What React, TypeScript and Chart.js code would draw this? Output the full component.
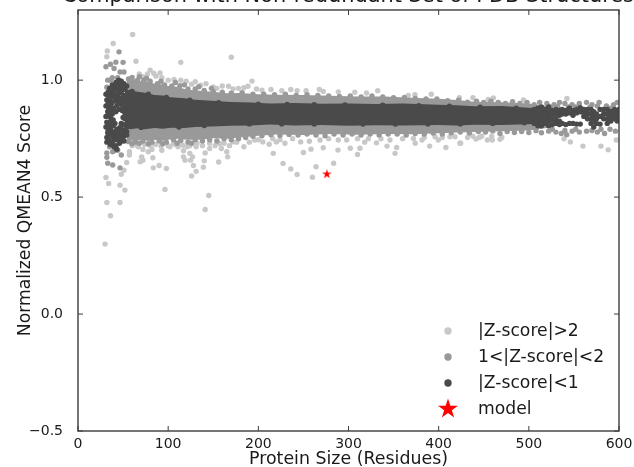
import React, { useEffect, useRef } from "react";
import { Chart, registerables } from "chart.js";

Chart.register(...registerables);

type P = [number, number];

const titleText = "Comparison with Non-redundant Set of PDB Structures";
const xAxisTitle = "Protein Size (Residues)";
const yAxisTitle = "Normalized QMEAN4 Score";
const legendLabels = ["|Z-score|>2", "1<|Z-score|<2", "|Z-score|<1", "model"];

// The saturated core of the cloud cannot be resolved into single points, so it is read as an envelope.
const darkBandX = [52, 58, 66, 74, 85, 94, 103, 118, 130, 148, 170, 192, 213, 240, 270, 300, 330, 360, 400, 420, 440, 470, 508];
const darkBandTop = [0.96, 0.957, 0.95, 0.946, 0.937, 0.934, 0.927, 0.923, 0.916, 0.912, 0.907, 0.904, 0.9, 0.902, 0.899, 0.9, 0.898, 0.9, 0.895, 0.893, 0.888, 0.889, 0.88];
const darkBandBottom = [0.795, 0.79, 0.794, 0.79, 0.795, 0.792, 0.797, 0.795, 0.8, 0.802, 0.805, 0.806, 0.81, 0.806, 0.808, 0.805, 0.807, 0.806, 0.808, 0.806, 0.809, 0.808, 0.813];
const midBandX = [54, 62, 70, 78, 85, 92, 100, 110, 120, 135, 150, 165, 180, 200, 220, 250, 280, 310, 340, 370, 400, 420, 440, 470, 500, 520];
const midBandTop = [1.0, 1.005, 0.995, 0.993, 0.985, 0.982, 0.975, 0.972, 0.96, 0.955, 0.95, 0.944, 0.945, 0.94, 0.938, 0.937, 0.933, 0.93, 0.93, 0.925, 0.92, 0.915, 0.908, 0.905, 0.9, 0.89];
const midBandBottom = [0.745, 0.74, 0.745, 0.74, 0.745, 0.74, 0.745, 0.75, 0.745, 0.745, 0.752, 0.75, 0.755, 0.762, 0.768, 0.766, 0.77, 0.767, 0.77, 0.769, 0.773, 0.776, 0.778, 0.782, 0.785, 0.795];

const modelPoint: P[] = [[276, 0.598]];

const darkLeft: P[] = [
  [31,0.94],[32,0.915],[31,0.89],[33,0.865],[31,0.845],[32,0.82],[31,0.8],[33,0.775],[32,0.755],[32,0.735],
  [35,0.965],[36,0.94],[35,0.915],[36,0.89],[35,0.865],[36,0.84],[35,0.815],[36,0.79],[35,0.77],[34,0.745],[36,0.725],
  [38,0.98],[39,0.955],[39,0.93],[38,0.905],[39,0.88],[38,0.855],[39,0.83],[39,0.805],[38,0.78],[39,0.755],[38,0.735],[40,0.715],
  [42,0.99],[43,0.965],[42,0.94],[41,0.915],[43,0.89],[42,0.865],[41,0.815],[43,0.79],[42,0.77],[42,0.745],[42,0.72],[43,0.705],
  [45,1.0],[46,0.975],[46,0.95],[45,0.925],[46,0.9],[46,0.875],[46,0.795],[45,0.77],[46,0.75],[46,0.73],
  [48,0.995],[49,0.97],[48,0.945],[48,0.92],[49,0.895],[49,0.87],[50,0.84],[48,0.815],[48,0.79],[49,0.765],[48,0.74],
  [51,0.985],[52,0.96],[51,0.935],[52,0.91],[51,0.885],[52,0.86],[52,0.835],[52,0.81],[51,0.785],[51,0.76],[51,0.74],
  [54,0.975],[54,0.8],[54,0.78],[54,0.765],
  [33.5,0.95],[34,0.925],[33.5,0.9],[34,0.875],[33.5,0.85],[34,0.805],[33.5,0.785],[37,0.955],[37,0.9],[37.5,0.875],[37,0.825],[37,0.765],
  [40.5,0.97],[40.5,0.945],[40.5,0.87],[40.5,0.775],[44,0.98],[44,0.93],[44,0.905],[44,0.78],[44,0.76],
  [47.5,0.985],[47.5,0.96],[47.5,0.905],[47.5,0.8],[47.5,0.75],[50,0.975],[50,0.925],[50,0.87],[50,0.775],
];
const darkTopEdge: P[] = [
  [60,0.952],[78,0.94],[98,0.926],[124,0.914],[156,0.904],[200,0.897],[232,0.896],[262,0.895],[296,0.894],[338,0.893],[378,0.891],[412,0.889],[446,0.884],[486,0.88],
];
const darkBottomEdge: P[] = [
  [70,0.798],[112,0.8],[140,0.806],[190,0.813],[226,0.813],[262,0.812],[316,0.812],[352,0.812],[388,0.813],[424,0.813],[460,0.815],[495,0.818],
];
const darkRight: P[] = [
  [506,0.875],[506,0.855],[506,0.835],[506,0.815],
  [510,0.88],[510,0.86],[510,0.84],[510,0.82],[510,0.805],[514,0.885],[514,0.865],[514,0.845],[514,0.825],[514,0.805],
  [518,0.875],[518,0.855],[518,0.835],[518,0.815],[522,0.885],[522,0.865],[522,0.845],[522,0.825],[522,0.805],
  [526,0.87],[526,0.85],[526,0.83],[526,0.81],[530,0.875],[530,0.855],[530,0.835],[530,0.815],
  [534,0.87],[534,0.85],[534,0.825],[534,0.81],[537,0.875],[537,0.855],[537,0.815],[541,0.87],[541,0.855],[541,0.81],
  [545,0.88],[545,0.86],[545,0.815],[549,0.87],[549,0.85],[549,0.815],[553,0.875],[553,0.86],[553,0.812],
  [557,0.865],[557,0.882],[557,0.812],[561,0.86],[561,0.875],[561,0.845],[565,0.835],[565,0.875],[565,0.855],
  [569,0.875],[569,0.855],[569,0.835],[569,0.815],[572,0.865],[572,0.845],[572,0.825],[572,0.8],
  [575,0.855],[575,0.835],[575,0.815],[579,0.875],[579,0.812],[579,0.845],[583,0.875],[583,0.855],[583,0.835],
  [587,0.875],[587,0.855],[587,0.835],[587,0.815],[591,0.845],[591,0.825],[591,0.865],[595,0.875],[595,0.855],[595,0.835],
  [598,0.865],[598,0.845],[598,0.825],[600,0.875],[600,0.855],[600,0.835],
];

const midTop: P[] = [
  [56,1.005],[60,1.012],[66,1.0],[73,1.0],[80,0.995],[88,0.985],[96,0.98],[104,0.975],[113,0.976],[122,0.962],[130,0.962],[140,0.956],[150,0.952],[160,0.948],[170,0.944],[182,0.946],
  [194,0.94],[206,0.94],[218,0.938],[230,0.94],[242,0.935],[254,0.938],[266,0.935],[278,0.932],[290,0.93],[302,0.932],[314,0.928],[326,0.932],[338,0.928],[350,0.925],[362,0.926],
  [374,0.922],[386,0.92],[398,0.92],[410,0.912],[422,0.914],[432,0.906],[442,0.91],[450,0.905],[458,0.91],[466,0.905],[474,0.9],[482,0.908],
  [490,0.9],[498,0.905],[506,0.895],[512,0.905],[520,0.9],[528,0.895],[534,0.905],[540,0.9],[548,0.895],[556,0.9],[564,0.905],[570,0.895],[578,0.905],[586,0.89],[594,0.895],[598,0.905],
  [524,0.885],[532,0.888],[544,0.885],[552,0.885],[568,0.885],[576,0.89],[590,0.88],
];
const midBottom: P[] = [
  [56,0.737],[64,0.735],[72,0.74],[82,0.735],[90,0.74],[98,0.735],[106,0.745],[114,0.742],[122,0.735],[130,0.745],[138,0.74],[146,0.745],[154,0.74],
  [162,0.75],[170,0.745],[178,0.75],[186,0.755],[194,0.76],[204,0.762],[214,0.767],[224,0.763],[234,0.768],[244,0.765],[254,0.77],[264,0.765],[274,0.762],
  [284,0.77],[294,0.765],[304,0.77],[314,0.765],[324,0.77],[334,0.766],[344,0.77],[354,0.77],[364,0.765],[374,0.772],[384,0.77],[394,0.774],[404,0.77],
  [414,0.775],[424,0.778],[434,0.774],[444,0.78],[452,0.778],[460,0.783],[468,0.772],[476,0.78],[484,0.776],[492,0.78],[500,0.776],[508,0.784],[514,0.775],
  [522,0.782],[530,0.778],[536,0.772],[542,0.767],[548,0.782],[556,0.778],[564,0.782],[576,0.778],[584,0.772],[596,0.782],
  [526,0.79],[540,0.785],[552,0.79],[570,0.785],[580,0.79],[590,0.79],
];
const midScatter: P[] = [
  [45.5,1.121],[31,1.057],[36,1.068],[42,1.077],[50,1.076],[40,1.05],[46.6,1.035],[51,1.035],[33,1.0],[32,0.97],[38,1.01],[44,1.01],[36,1.0],
  [32,0.689],[38.5,0.694],[32,0.67],[33,0.645],[38.5,0.637],[46.6,0.625],[44,0.7],[48,0.68],[35,0.715],[41,0.7],
  [60,0.728],[68,0.73],[78,0.728],[94,0.728],[110,0.73],[126,0.73],[68,1.015],[76,1.008],[92,0.995],[108,0.99],[118,0.98],[134,0.972],[148,0.965],
];

const lightPoints: P[] = [
  [30,0.299],[60.6,1.195],[39,1.157],[32.5,1.125],[32,1.1],[64.3,1.081],[114,1.076],[170,1.098],
  [68,1.026],[80,1.043],[77,1.026],[91,1.031],[86.5,1.017],[72,1.015],[84,1.03],[106.5,1.003],[114,1.0],[120,0.995],[130,0.993],[150,0.971],[167,0.974],[193,0.996],[204,0.957],[188.5,0.974],[178,0.965],[160,0.975],[142,0.985],[100,1.0],[93,1.01],
  [226,0.955],[243,0.955],[253,0.955],[267.6,0.96],[288.7,0.95],[307,0.948],[320,0.945],[332.4,0.955],[366.4,0.935],[373.7,0.938],[391.8,0.94],[423,0.925],[542.3,0.922],[460.6,0.924],[455,0.917],[438,0.925],[494,0.915],[214,0.96],[236,0.96],[272,0.952],[198,0.962],[184,0.968],[172,0.962],[154,0.965],[126,0.983],[136,0.978],
  [51,0.615],[48,0.598],[31,0.584],[34,0.558],[46.6,0.551],[52,0.53],[32,0.477],[46.6,0.477],[36,0.42],[96.5,0.533],[145,0.507],[141,0.447],
  [54,0.648],[57,0.694],[57,0.68],[67,0.715],[72,0.704],[78,0.694],[82,0.704],[70.6,0.672],[69,0.651],[72,0.658],[83,0.668],[83.5,0.625],[90,0.635],[98,0.622],[93,0.7],[102,0.715],[106,0.729],[111,0.715],[117,0.698],[121,0.715],[131,0.715],[124,0.687],[127,0.672],[117,0.672],[118.7,0.658],[125,0.658],[128,0.635],[131,0.61],[126,0.59],[141,0.689],[146,0.708],[140,0.655],[139,0.628],[156,0.65],[157,0.729],[159,0.708],[165,0.694],[166,0.672],[184,0.715],[172,0.736],[196,0.744],[205,0.736],[212,0.726],
  [60,0.72],[66,0.72],[74,0.725],[80,0.72],[86,0.725],[92,0.718],[100,0.72],[108,0.725],[116,0.722],[124,0.72],[132,0.73],[138,0.72],[146,0.73],[152,0.72],[162,0.73],[168,0.72],[176,0.735],[190,0.735],[200,0.745],[216,0.75],[224,0.745],
  [227.4,0.644],[236,0.62],[243,0.597],[260,0.585],[264,0.63],[283.5,0.645],[216.6,0.687],[250,0.691],[258.4,0.705],[302,0.709],[310,0.682],[312.7,0.709],[288.3,0.701],[272,0.711],[331,0.732],[342.7,0.718],[353.4,0.712],[351.6,0.687],[374,0.73],[381.5,0.744],[399.6,0.744],[408,0.712],[423.6,0.73],[390,0.718],[412.5,0.758],
  [220,0.736],[229.5,0.73],[247,0.736],[256.6,0.739],[268.4,0.744],[288.7,0.744],[298,0.744],[346,0.744],[372,0.751],[238,0.75],[278,0.75],[310,0.75],[322,0.75],[336,0.75],[360,0.75],[384,0.755],[396,0.758],[418,0.758],[432,0.755],
  [597,0.744],[588,0.702],[580,0.718],[560,0.718],[546,0.736],[539,0.749],[468,0.747],[459.5,0.744],[454,0.744],[441.4,0.748],[424.4,0.73],[447.7,0.76],[458.8,0.76],[438,0.76],[470,0.755],
  [318,0.735],[404,0.755],[445,0.755],
];

const colors = { dark: "#4a4a4a", mid: "#999999", light: "#c8c8c8", model: "#ff0000", text: "#1a1a1a", frame: "#3c3c3c" };
const xTicks = [0, 100, 200, 300, 400, 500, 600];
const yTicks = [-0.5, 0, 0.5, 1];

function starPath(ctx: CanvasRenderingContext2D, cx: number, cy: number, r: number) {
  ctx.beginPath();
  for (let i = 0; i < 10; i++) {
    const a = -Math.PI / 2 + (i * Math.PI) / 5;
    const rr = i % 2 === 0 ? r : r * 0.382;
    ctx.lineTo(cx + rr * Math.cos(a), cy + rr * Math.sin(a));
  }
  ctx.closePath();
}

function starImage(r: number) {
  const c = document.createElement("canvas");
  c.width = c.height = r * 2 + 2;
  const ctx = c.getContext("2d")!;
  ctx.fillStyle = colors.model;
  starPath(ctx, r + 1, r + 1, r);
  ctx.fill();
  return c;
}

const toXY = (rows: P[]) => rows.map(([x, y]) => ({ x, y }));
const band = (xs: number[], ys: number[]) => xs.map((x, i) => ({ x, y: ys[i] }));

const scatterStyle = (color: string) => ({
  pointRadius: 2.7,
  pointBackgroundColor: color,
  pointBorderWidth: 0,
  showLine: false,
  clip: 0,
});

const frame = {
  id: "frameAndLegend",
  afterDatasetsDraw(chart: any) {
    const { ctx, chartArea: a, scales } = chart;
    ctx.save();
    ctx.strokeStyle = colors.frame;
    ctx.lineWidth = 1.4;
    ctx.strokeRect(a.left, a.top, a.right - a.left, a.bottom - a.top);
    ctx.lineWidth = 1;
    ctx.beginPath();
    xTicks.forEach((v) => {
      const px = scales.x.getPixelForValue(v);
      ctx.moveTo(px, a.bottom);
      ctx.lineTo(px, a.bottom - 5);
      ctx.moveTo(px, a.top);
      ctx.lineTo(px, a.top + 5);
    });
    yTicks.forEach((v) => {
      const py = scales.y.getPixelForValue(v);
      ctx.moveTo(a.left, py);
      ctx.lineTo(a.left + 5, py);
      ctx.moveTo(a.right, py);
      ctx.lineTo(a.right - 5, py);
    });
    ctx.stroke();

    const rowColors = [colors.light, colors.mid, colors.dark];
    const markerX = a.left + 370;
    const textX = a.left + 400;
    ctx.font = '17.2px "DejaVu Sans"';
    ctx.textBaseline = "middle";
    legendLabels.forEach((label, i) => {
      const y = a.bottom - 100 + i * 26;
      if (i < 3) {
        ctx.fillStyle = rowColors[i];
        ctx.beginPath();
        ctx.arc(markerX, y, 3.7, 0, Math.PI * 2);
        ctx.fill();
      } else {
        ctx.fillStyle = colors.model;
        starPath(ctx, markerX, y, 10.5);
        ctx.fill();
      }
      ctx.fillStyle = colors.text;
      ctx.fillText(label, textX, y + 1);
    });
    ctx.restore();
  },
};

export default function App() {
  const ref = useRef<HTMLCanvasElement>(null);
  useEffect(() => {
    const chart = new Chart(ref.current!, {
      type: "scatter",
      plugins: [frame],
      data: {
        datasets: [
          { label: "model", data: toXY(modelPoint), order: 0, pointStyle: starImage(5), showLine: false, clip: 0 } as any,
          { label: "|Z-score|<1", data: toXY([...darkLeft, ...darkTopEdge, ...darkBottomEdge, ...darkRight]), order: 1, ...scatterStyle(colors.dark) },
          { label: "dark core top", data: band(darkBandX, darkBandTop), order: 2, showLine: true, pointRadius: 0, borderWidth: 0, fill: "+1", backgroundColor: colors.dark },
          { label: "dark core bottom", data: band(darkBandX, darkBandBottom), order: 3, showLine: true, pointRadius: 0, borderWidth: 0 },
          { label: "1<|Z-score|<2", data: toXY([...midTop, ...midBottom, ...midScatter]), order: 4, ...scatterStyle(colors.mid) },
          { label: "mid core top", data: band(midBandX, midBandTop), order: 5, showLine: true, pointRadius: 0, borderWidth: 0, fill: "+1", backgroundColor: colors.mid },
          { label: "mid core bottom", data: band(midBandX, midBandBottom), order: 6, showLine: true, pointRadius: 0, borderWidth: 0 },
          { label: "|Z-score|>2", data: toXY(lightPoints), order: 7, ...scatterStyle(colors.light) },
        ],
      },
      options: {
        responsive: false,
        animation: false,
        layout: { padding: 0 },
        plugins: {
          legend: { display: false },
          tooltip: { enabled: false },
          title: {
            display: true,
            fullSize: true,
            align: "end",
            text: titleText,
            color: colors.text,
            font: { family: '"DejaVu Sans"', size: 20.9, weight: "normal" },
            padding: { top: 3.9, bottom: 1 },
          },
        },
        scales: {
          x: {
            type: "linear",
            min: 0,
            max: 600,
            afterFit: (s: any) => { s.height = 36; },
            grid: { display: false },
            border: { display: false },
            ticks: { stepSize: 100, color: colors.text, font: { family: '"DejaVu Sans"', size: 14 }, maxRotation: 0, padding: -3 },
            title: { display: true, text: xAxisTitle, color: colors.text, font: { family: '"DejaVu Sans"', size: 17.4 }, padding: { top: 0, bottom: -3 } },
          },
          y: {
            type: "linear",
            min: -0.5,
            max: 1.3,
            afterFit: (s: any) => { s.width = 78; },
            grid: { display: false },
            border: { display: false },
            ticks: {
              stepSize: 0.5,
              includeBounds: false,
              color: colors.text,
              font: { family: '"DejaVu Sans"', size: 14 },
              padding: 7,
              callback: (v: any) => Number(v).toFixed(1).replace("-", "\u2212"),
            },
            title: { display: true, text: yAxisTitle, color: colors.text, font: { family: '"DejaVu Sans"', size: 17.2 }, padding: { top: 15, bottom: 0 } },
          },
          rightMargin: {
            type: "linear",
            position: "right",
            afterFit: (s: any) => { s.width = 15; },
            grid: { display: false },
            border: { display: false },
            ticks: { display: false },
          },
        },
      },
    } as any);
    return () => chart.destroy();
  }, []);
  return (
    <canvas
      ref={ref}
      width={634}
      height={487}
      style={{ position: "absolute", left: 0, top: -20, width: 634, height: 487, background: "#fff" }}
    />
  );
}
